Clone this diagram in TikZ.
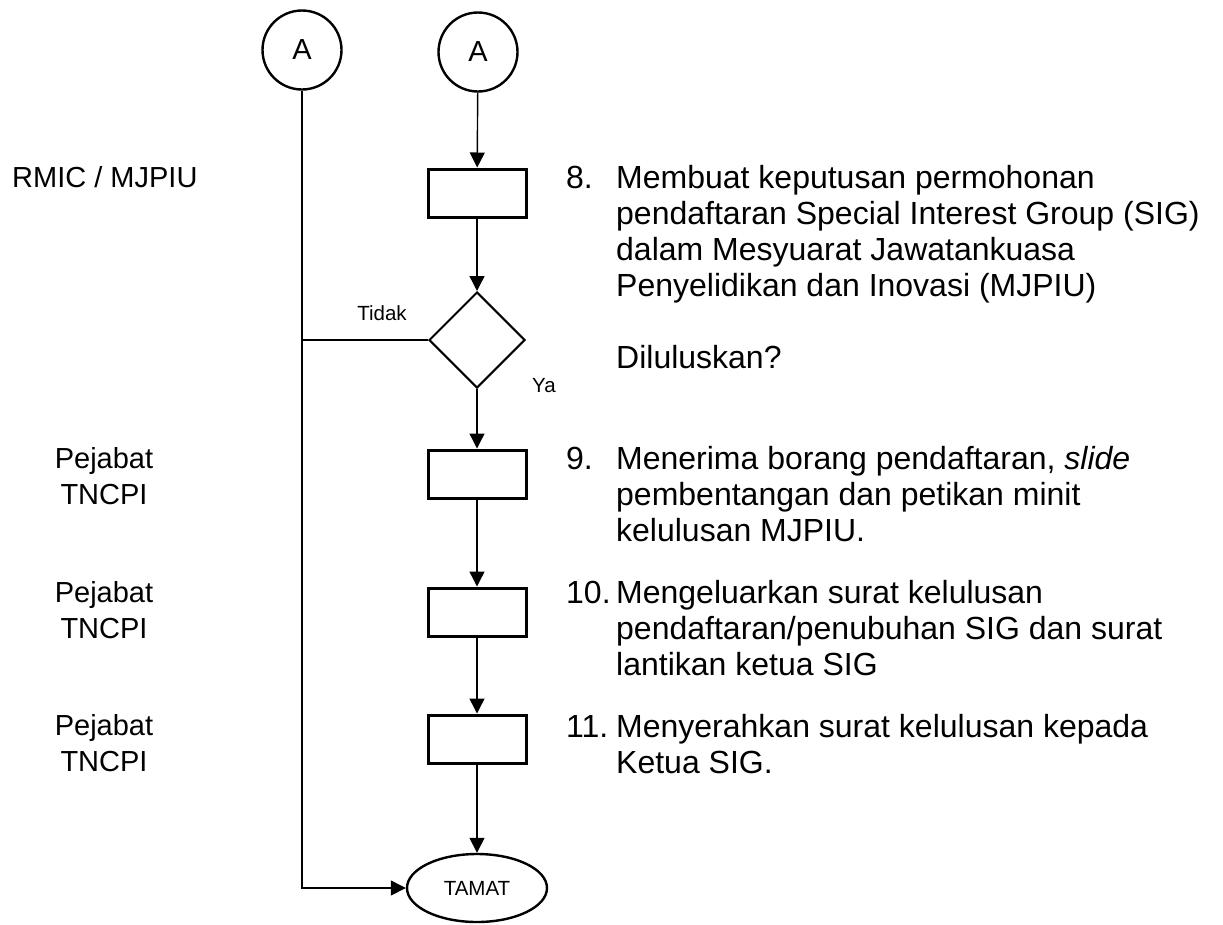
\documentclass[tikz,border=0pt]{standalone}
\usepackage{fontspec}
\setmainfont{Liberation Sans}
\usetikzlibrary{shapes.geometric,arrows.meta}

\begin{document}
\begin{tikzpicture}[x=1pt,y=-1pt,
  every node/.style={inner sep=0pt},
  conn/.style={draw,circle,line width=2.4pt,minimum size=79pt,font=\fontsize{29}{34}\selectfont},
  proc/.style={draw,rectangle,line width=3pt,minimum width=98pt,minimum height=48pt},
  dec/.style={draw,diamond,line width=2pt,minimum size=96pt},
  term/.style={draw,ellipse,line width=2.4pt,minimum width=140pt,minimum height=68pt,font=\fontsize{20.5}{24}\selectfont},
  flow/.style={line width=1.4pt,-{Triangle[length=15pt,width=15pt]}},
  who/.style={align=center,font=\fontsize{29}{36}\selectfont},
  desc/.style={anchor=north west,font=\fontsize{32}{36}\selectfont},
  small/.style={font=\fontsize{20.5}{24}\selectfont}
]
\useasboundingbox (0,0) rectangle (1223,924);

% symbols
\node[conn] (a1) at (302,50) {A};
\node[conn] (a2) at (478,52) {A};
\node[proc] (p8) at (477,193) {};
\node[dec] (q8) at (477,340) {};
\node[proc] (p9) at (477,474) {};
\node[proc] (p10) at (477,612) {};
\node[proc] (p11) at (477,739) {};
\node[term] (end) at (477,888) {TAMAT};

\node[small] (no) at (382,313) {Tidak};
\node[small] (yes) at (544,386) {Ya};

% flow
\draw[flow] (a2) -- (p8);
\draw[flow] (p8) -- (q8);
\draw[flow] (q8) -- (p9);
\draw[flow] (p9) -- (p10);
\draw[flow] (p10) -- (p11);
\draw[flow] (p11) -- (end);
\draw[flow] (a1) |- (end);
\draw[line width=1.4pt] (q8.west) -- (q8.west -| a1);

% who
\node[who,anchor=west] (w8) at (12,177) {RMIC / MJPIU};
\node[who] (w9) at (104,476) {Pejabat\\TNCPI};
\node[who] (w10) at (104,610) {Pejabat\\TNCPI};
\node[who] (w11) at (104,743) {Pejabat\\TNCPI};

% steps
\node[desc] (t8) at (566,163) {\begin{tabular}{@{}p{50pt}@{}l@{}}
8. & Membuat keputusan permohonan\\
 & pendaftaran Special Interest Group (SIG)\\
 & dalam Mesyuarat Jawatankuasa\\
 & Penyelidikan dan Inovasi (MJPIU)\\
 & \\
 & Diluluskan?
\end{tabular}};
\node[desc] (t9) at (566,444) {\begin{tabular}{@{}p{50pt}@{}l@{}}
9. & Menerima borang pendaftaran, \textit{slide}\\
 & pembentangan dan petikan minit\\
 & kelulusan MJPIU.
\end{tabular}};
\node[desc] (t10) at (566,578) {\begin{tabular}{@{}p{50pt}@{}l@{}}
10. & Mengeluarkan surat kelulusan\\
 & pendaftaran/penubuhan SIG dan surat\\
 & lantikan ketua SIG
\end{tabular}};
\node[desc] (t11) at (566,712) {\begin{tabular}{@{}p{50pt}@{}l@{}}
11. & Menyerahkan surat kelulusan kepada\\
 & Ketua SIG.
\end{tabular}};
\end{tikzpicture}
\end{document}
